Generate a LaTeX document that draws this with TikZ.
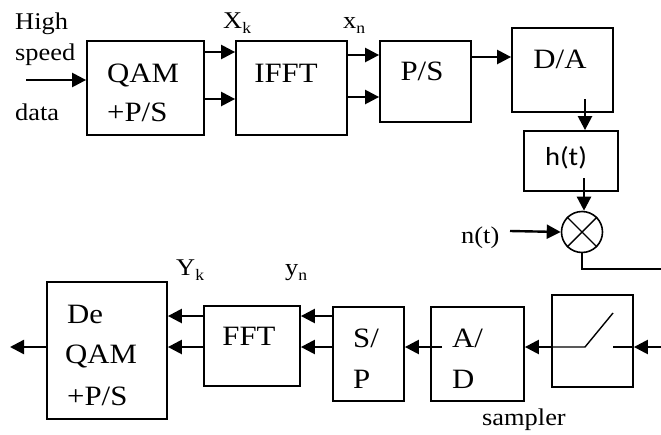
\documentclass[tikz,border=0pt]{standalone}
\usepackage{fontspec}
\setmainfont{Liberation Serif}[FakeStretch=1.1]
\newfontfamily\hfont{Carlito}[FakeStretch=1.1]
\usetikzlibrary{arrows.meta}
\newcommand{\sbs}[1]{\raisebox{-5pt}{\fontsize{16}{16}\selectfont #1}}
\begin{document}
\begin{tikzpicture}[x=1pt,y=-1pt,
  box/.style={draw, line width=1.8pt, fill=white, inner sep=0pt},
  arr/.style={line width=2.4pt, -{Triangle[length=14pt,width=14pt]}},
  thinline/.style={line width=1.4pt},
  lbl/.style={font=\fontsize{24}{26}\selectfont, inner sep=0pt, anchor=base west},
  big/.style={font=\fontsize{28}{30}\selectfont, inner sep=0pt, anchor=base west},
  bigc/.style={font=\fontsize{28}{30}\selectfont, inner sep=0pt, anchor=base}]
\useasboundingbox (0,0) rectangle (661,434);
% boxes
\node[box, minimum width=117pt, minimum height=94pt] (qam) at (145.5,88) {};
\node[box, minimum width=111pt, minimum height=94pt] (ifft) at (291.5,88) {};
\node[box, minimum width=91pt, minimum height=81pt] (ps) at (425.5,81.5) {};
\node[box, minimum width=101pt, minimum height=84pt] (da) at (562.5,70) {};
\node[box, minimum width=94pt, minimum height=60pt] (ht) at (571,161) {};
\node[draw, line width=1.6pt, fill=white, circle, minimum size=41pt, inner sep=0pt] (mx) at (582,232) {};
\node[box, minimum width=81pt, minimum height=92pt] (smp) at (592.5,341) {};
\node[box, minimum width=93pt, minimum height=94pt] (ad) at (477.5,354) {};
\node[box, minimum width=71pt, minimum height=94pt] (sp) at (368.5,354) {};
\node[box, minimum width=96pt, minimum height=80pt] (fft) at (252,346) {};
\node[box, minimum width=120pt, minimum height=137pt] (deq) at (107,350.5) {};
% mixer cross
\draw[thinline] (mx.45) -- (mx.225);
\draw[thinline] (mx.135) -- (mx.315);
% box texts
\node[big] (t1) at (107,82) {QAM};
\node[big] (t2) at (107,121) {+P/S};
\node[bigc] (t3) at (286,82) {IFFT};
\node[bigc] (t4) at (422,80) {P/S};
\node[bigc] (t5) at (560,68) {D/A};
\node[font=\hfont\fontsize{26}{28}\selectfont, inner sep=0pt] (t6) at (566,158) {h(t)};
\node[bigc] (t7) at (249,345) {FFT};
\node[big] (t8) at (67,323) {De};
\node[big] (t9) at (65,363) {QAM};
\node[big] (t10) at (67,405) {+P/S};
\node[big] (t11) at (353,347) {S/};
\node[big] (t12) at (353,388) {P};
\node[big] (t13) at (452,347) {A/};
\node[big] (t14) at (452,388) {D};
% labels
\node[lbl] (l1) at (15,29) {High};
\node[lbl] (l2) at (15,60) {speed};
\node[lbl] (l3) at (15,120) {data};
\node[lbl] (l4) at (223,28) {X\sbs{k}};
\node[lbl] (l5) at (343,28) {x\sbs{n}};
\node[lbl] (l6) at (176,275) {Y\sbs{k}};
\node[lbl] (l7) at (285,275) {y\sbs{n}};
\node[lbl] (l8) at (461,243) {n(t)};
\node[lbl] (l9) at (482,425) {sampler};
% free ends
\coordinate (in) at (26,80);
\coordinate (daout) at (585,99);
\coordinate (htout) at (584,178);
\coordinate (ntin) at (510,231);
\coordinate (wrapR) at (661,269);
\coordinate (smpin) at (661,347);
\coordinate (adout) at (442,347);
\coordinate (out) at (10,347);
% connectors
\draw[arr] (in) -- (in -| qam.west);
\draw[arr] (qam.east |- 0,52) -- (ifft.west |- 0,52);
\draw[arr] (qam.east |- 0,99) -- (ifft.west |- 0,99);
\draw[arr] (ifft.east |- 0,55) -- (ps.west |- 0,55);
\draw[arr] (ifft.east |- 0,97) -- (ps.west |- 0,97);
\draw[arr] (ps.east |- 0,57) -- (da.west |- 0,57);
\draw[arr] (daout) -- (daout |- ht.north);
\draw[arr] (htout) -- (htout |- mx.north);
\draw[arr] (ntin) -- (mx.west);
\draw[thinline] (mx.south) |- (wrapR);
\draw[arr] (smpin) -- (smpin -| smp.east);
\draw[arr] (smp.west |- 0,347) -- (ad.east |- 0,347);
\draw[arr] (adout) -- (sp.east |- adout);
\draw[arr] (sp.west |- 0,316) -- (fft.east |- 0,316);
\draw[arr] (sp.west |- 0,347) -- (fft.east |- 0,347);
\draw[arr] (fft.west |- 0,316) -- (deq.east |- 0,316);
\draw[arr] (fft.west |- 0,347) -- (deq.east |- 0,347);
\draw[arr] (deq.west |- out) -- (out);
% switch
\draw[thinline] (smp.west |- 0,347) -- (585,347) -- (613,313);
\draw[thinline] (613,347) -- (smp.east |- 0,347);
\end{tikzpicture}
\end{document}
